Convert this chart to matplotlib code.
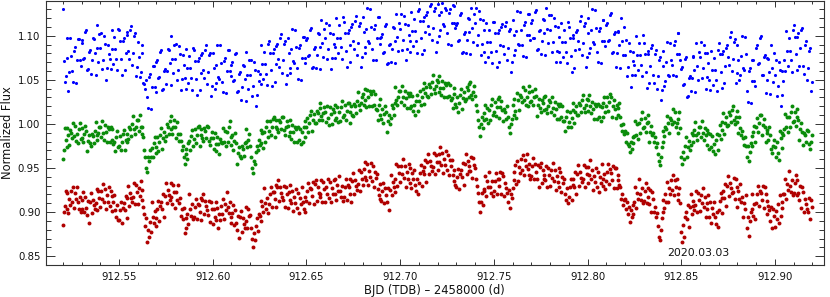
import numpy as np
import matplotlib
matplotlib.use("Agg")
import matplotlib.pyplot as plt
from matplotlib.ticker import MultipleLocator, FormatStrFormatter

# ---------------- data (flux values in units of 0.001) ----------------
t0 = 912.520          # first time stamp (BJD - 2458000)
dt_gr = 0.0005        # cadence of green / red series
dt_b = 0.001          # cadence of each blue sub-series
t0_b2 = 912.5205      # second (interleaved) blue sub-series

green_mflux = [
 960, 970, 995, 982, 974, 995, 987, 976, 993, 990, 984, 1001, 986, 998, 981, 989, 978, 994, 1001, 983,
 984, 995, 979, 989, 998, 992, 969, 981, 988, 978, 975, 989, 986, 978, 992, 1002, 987, 982, 990, 997,
 997, 985, 1003, 990, 982, 999, 991, 980, 997, 994, 980, 997, 982, 994, 977, 980, 969, 985, 992, 974,
 975, 986, 970, 980, 989, 993, 970, 982, 989, 979, 983, 997, 994, 986, 1000, 1009, 994, 989, 997, 1004,
 1004, 992, 1010, 997, 989, 996, 985, 970, 962, 950, 946, 962, 958, 971, 963, 973, 962, 978, 985, 967,
 974, 985, 969, 979, 988, 995, 972, 984, 991, 981, 986, 1000, 997, 989, 1003, 1009, 994, 989, 997, 1004,
 996, 984, 1002, 989, 981, 989, 981, 970, 975, 962, 955, 966, 972, 960, 978, 981, 970, 986, 993, 975,
 983, 994, 978, 988, 997, 998, 975, 987, 994, 984, 981, 995, 992, 984, 998, 996, 981, 976, 984, 991,
 984, 972, 990, 977, 969, 985, 977, 966, 983, 980, 978, 995, 980, 992, 975, 991, 980, 996, 1003, 985,
 976, 987, 971, 981, 990, 978, 955, 967, 974, 964, 961, 975, 972, 964, 978, 994, 979, 974, 982, 989,
 975, 962, 950, 944, 958, 955, 968, 975, 970, 982, 976, 993, 978, 990, 973, 991, 980, 996, 1003, 985,
 992, 1003, 987, 997, 1006, 1008, 985, 997, 1004, 994, 991, 1005, 1002, 994, 1008, 1008, 993, 988, 996, 1003,
 998, 986, 1004, 991, 983, 999, 991, 980, 997, 994, 980, 997, 982, 994, 977, 991, 980, 996, 1003, 985,
 996, 1007, 991, 1001, 1010, 1015, 992, 1004, 1011, 1001, 1001, 1015, 1012, 1004, 1018, 1024, 1009, 1004, 1012, 1019,
 1014, 1002, 1020, 1007, 999, 1019, 1011, 1000, 1017, 1014, 1005, 1022, 1007, 1019, 1002, 1014, 1003, 1019, 1026, 1008,
 1010, 1021, 1005, 1015, 1024, 1024, 1001, 1013, 1020, 1010, 1009, 1023, 1020, 1012, 1026, 1036, 1021, 1016, 1024, 1031,
 1034, 1022, 1040, 1027, 1019, 1039, 1031, 1020, 1037, 1034, 1020, 1037, 1022, 1034, 1017, 1016, 1005, 1021, 1028, 1010,
 1006, 1017, 1001, 1011, 1020, 1014, 991, 1003, 1010, 1000, 1007, 1021, 1018, 1010, 1024, 1042, 1027, 1022, 1030, 1037,
 1037, 1025, 1043, 1030, 1022, 1037, 1029, 1018, 1035, 1032, 1018, 1035, 1020, 1032, 1015, 1021, 1010, 1026, 1033, 1015,
 1026, 1037, 1021, 1031, 1040, 1046, 1023, 1035, 1042, 1032, 1031, 1045, 1042, 1034, 1048, 1055, 1040, 1035, 1043, 1050,
 1048, 1036, 1054, 1041, 1033, 1049, 1041, 1030, 1047, 1044, 1030, 1047, 1032, 1044, 1027, 1029, 1018, 1034, 1041, 1023,
 1019, 1030, 1014, 1024, 1033, 1040, 1017, 1029, 1036, 1026, 1028, 1042, 1039, 1031, 1045, 1048, 1033, 1028, 1036, 1043,
 1032, 1022, 1015, 1004, 996, 986, 1000, 1008, 995, 1012, 1004, 1021, 1006, 1018, 1001, 1016, 1005, 1021, 1028, 1010,
 1014, 1025, 1009, 1019, 1028, 1030, 1007, 1019, 1026, 1016, 1003, 1017, 1014, 1006, 1020, 1008, 996, 990, 1000, 1006,
 1022, 1010, 1028, 1015, 1007, 1035, 1027, 1016, 1033, 1030, 1025, 1042, 1027, 1039, 1022, 1031, 1020, 1036, 1043, 1025,
 1026, 1037, 1021, 1031, 1040, 1032, 1009, 1021, 1028, 1018, 1013, 1027, 1024, 1016, 1030, 1032, 1017, 1012, 1020, 1027,
 1025, 1013, 1031, 1018, 1010, 1025, 1017, 1006, 1023, 1020, 1006, 1023, 1008, 1020, 1003, 1003, 992, 1008, 1015, 997,
 1002, 1013, 997, 1007, 1016, 1024, 1001, 1013, 1020, 1010, 1010, 1024, 1021, 1013, 1027, 1033, 1018, 1013, 1021, 1028,
 1027, 1015, 1033, 1020, 1012, 1025, 1017, 1006, 1023, 1020, 1006, 1023, 1008, 1020, 1003, 1019, 1008, 1024, 1031, 1013,
 1020, 1031, 1015, 1025, 1034, 1031, 1008, 1020, 1027, 1017, 1007, 1021, 1018, 1010, 1024, 1008, 999, 992, 1000, 989,
 992, 980, 990, 977, 975, 968, 980, 972, 985, 978, 986, 1003, 988, 1000, 983, 1001, 990, 1006, 1013, 995,
 996, 1007, 991, 1001, 1010, 1002, 979, 991, 998, 988, 990, 980, 985, 974, 978, 966, 958, 953, 962, 974,
 980, 992, 986, 997, 994, 1009, 1001, 990, 1007, 1004, 1000, 1017, 1002, 1014, 997, 1001, 990, 1006, 1013, 995,
 962, 955, 968, 960, 975, 985, 962, 974, 981, 971, 976, 990, 987, 979, 993, 1002, 987, 982, 990, 997,
 997, 985, 1003, 990, 982, 995, 987, 976, 993, 990, 972, 989, 974, 986, 969, 977, 966, 982, 989, 971,
 988, 999, 983, 993, 1002, 1012, 989, 1001, 1008, 998, 999, 1013, 1010, 1002, 1016, 1020, 1005, 1000, 1008, 1015,
 1002, 990, 1008, 995, 987, 992, 984, 976, 985, 975, 962, 975, 958, 968, 978, 986, 975, 991, 998, 980,
 996, 1007, 991, 1001, 1010, 1010, 987, 999, 1006, 996, 979, 993, 990, 982, 996, 987, 972, 967, 975, 982,
 974, 962, 980, 967, 959, 992, 984, 973, 990, 987, 994, 1011, 996, 1008, 991, 1008, 997, 1013, 1020, 1002,
 1003, 1014, 998, 1008, 1017, 1005, 982, 994, 1001, 991, 976, 990, 987, 979, 993, 992, 977, 972, 980, 987,
]

red_mflux = [
 885, 900, 907, 924, 903, 922, 899, 915, 908, 924, 911, 928, 905, 922, 915, 928, 911, 904, 917, 900,
 903, 914, 923, 900, 917, 905, 897, 913, 888, 911, 922, 899, 914, 908, 903, 910, 926, 902, 924, 916,
 906, 924, 915, 932, 911, 926, 903, 919, 912, 928, 907, 924, 901, 918, 911, 919, 902, 895, 908, 891,
 891, 902, 911, 888, 905, 910, 902, 918, 893, 916, 930, 907, 922, 916, 911, 917, 933, 909, 931, 923,
 909, 927, 918, 935, 914, 925, 906, 898, 884, 893, 866, 880, 872, 889, 878, 912, 895, 888, 901, 884,
 893, 904, 913, 890, 907, 912, 904, 920, 895, 918, 933, 910, 925, 919, 914, 917, 933, 909, 931, 923,
 905, 923, 914, 931, 910, 916, 896, 903, 892, 905, 876, 893, 882, 898, 887, 920, 903, 896, 909, 892,
 895, 906, 915, 892, 909, 908, 900, 916, 891, 914, 921, 898, 913, 907, 902, 897, 913, 889, 911, 903,
 886, 904, 895, 912, 891, 905, 882, 898, 891, 907, 898, 915, 892, 909, 902, 923, 906, 899, 912, 895,
 888, 899, 908, 885, 902, 888, 880, 896, 871, 894, 901, 878, 893, 887, 882, 890, 906, 882, 904, 896,
 897, 882, 870, 860, 876, 868, 884, 893, 879, 898, 896, 913, 890, 907, 900, 927, 910, 903, 916, 899,
 909, 920, 929, 906, 923, 923, 915, 931, 906, 929, 936, 913, 928, 922, 917, 914, 930, 906, 928, 920,
 905, 923, 914, 931, 910, 924, 901, 917, 910, 926, 905, 922, 899, 916, 909, 928, 911, 904, 917, 900,
 913, 924, 933, 910, 927, 926, 918, 934, 909, 932, 936, 913, 928, 922, 917, 920, 936, 912, 934, 926,
 911, 929, 920, 937, 916, 934, 911, 927, 920, 936, 920, 937, 914, 931, 924, 941, 924, 917, 930, 913,
 917, 928, 937, 914, 931, 929, 921, 937, 912, 935, 944, 921, 936, 930, 925, 932, 948, 924, 946, 938,
 931, 949, 940, 957, 936, 954, 931, 947, 940, 956, 935, 952, 929, 946, 939, 943, 926, 919, 932, 915,
 913, 924, 933, 910, 927, 919, 911, 927, 902, 925, 942, 919, 934, 928, 923, 938, 954, 930, 952, 944,
 934, 952, 943, 960, 939, 952, 929, 945, 938, 954, 933, 950, 927, 944, 937, 948, 931, 924, 937, 920,
 933, 944, 953, 930, 947, 951, 943, 959, 934, 957, 966, 943, 958, 952, 947, 951, 967, 943, 965, 957,
 948, 966, 957, 974, 953, 967, 944, 960, 953, 969, 948, 965, 942, 959, 952, 959, 942, 935, 948, 931,
 929, 940, 949, 926, 943, 948, 940, 956, 931, 954, 966, 943, 958, 952, 947, 947, 963, 939, 961, 953,
 950, 938, 930, 922, 912, 900, 912, 922, 908, 926, 924, 941, 918, 935, 928, 946, 929, 922, 935, 918,
 924, 935, 944, 921, 938, 938, 930, 946, 921, 944, 941, 918, 933, 927, 922, 912, 925, 905, 920, 916,
 927, 945, 936, 953, 932, 958, 935, 951, 944, 960, 948, 965, 942, 959, 952, 966, 949, 942, 955, 938,
 941, 952, 961, 938, 955, 945, 937, 953, 928, 951, 956, 933, 948, 942, 937, 936, 952, 928, 950, 942,
 930, 948, 939, 956, 935, 948, 925, 941, 934, 950, 929, 946, 923, 940, 933, 938, 921, 914, 927, 910,
 917, 928, 937, 914, 931, 937, 929, 945, 920, 943, 953, 930, 945, 939, 934, 937, 953, 929, 951, 943,
 933, 951, 942, 959, 938, 948, 925, 941, 934, 950, 929, 946, 923, 940, 933, 954, 937, 930, 943, 926,
 935, 946, 955, 932, 949, 944, 936, 952, 927, 950, 950, 927, 942, 936, 931, 928, 915, 920, 908, 914,
 915, 903, 912, 898, 906, 889, 902, 895, 908, 898, 911, 928, 905, 922, 915, 938, 921, 914, 927, 910,
 913, 924, 933, 910, 927, 917, 909, 925, 900, 923, 915, 900, 906, 894, 899, 884, 872, 868, 880, 893,
 900, 914, 905, 920, 912, 934, 911, 927, 920, 936, 925, 942, 919, 936, 929, 938, 921, 914, 927, 910,
 878, 866, 885, 872, 894, 900, 892, 908, 883, 906, 921, 898, 913, 907, 902, 908, 924, 900, 922, 914,
 901, 919, 910, 927, 906, 917, 894, 910, 903, 919, 894, 911, 888, 905, 898, 911, 894, 887, 900, 883,
 902, 913, 922, 899, 916, 924, 916, 932, 907, 930, 941, 918, 933, 927, 922, 923, 939, 915, 937, 929,
 906, 924, 915, 932, 911, 917, 894, 910, 903, 919, 882, 895, 873, 890, 900, 920, 903, 896, 909, 892,
 910, 921, 930, 907, 924, 922, 914, 930, 905, 928, 921, 898, 913, 907, 902, 890, 906, 882, 904, 896,
 883, 901, 892, 909, 888, 919, 896, 912, 905, 921, 921, 938, 915, 932, 925, 947, 930, 923, 936, 919,
 922, 933, 942, 919, 936, 922, 914, 930, 905, 928, 923, 900, 915, 909, 904, 900, 916, 892, 914, 906,
]

blue_mflux = [
 1130, 1048, 1075, 1037, 1097, 1060, 1083, 1047, 1096, 1072, 1092, 1074, 1104, 1061, 1082, 1057, 1097, 1081, 1112, 1070,
 1086, 1062, 1100, 1050, 1090, 1074, 1107, 1068, 1085, 1061, 1107, 1074, 1094, 1061, 1101, 1083, 1106, 1067, 1100, 1054,
 1093, 1053, 1080, 1046, 1040, 1030, 1053, 1017, 1066, 1042, 1070, 1052, 1082, 1039, 1060, 1045, 1085, 1069, 1100, 1058,
 1074, 1050, 1088, 1038, 1078, 1052, 1085, 1046, 1063, 1039, 1084, 1051, 1071, 1038, 1078, 1061, 1084, 1045, 1078, 1032,
 1080, 1040, 1067, 1053, 1089, 1048, 1071, 1035, 1084, 1060, 1067, 1049, 1079, 1036, 1057, 1027, 1067, 1051, 1082, 1040,
 1056, 1032, 1070, 1020, 1060, 1057, 1090, 1051, 1068, 1044, 1094, 1061, 1081, 1048, 1088, 1074, 1097, 1058, 1091, 1045,
 1098, 1058, 1085, 1071, 1107, 1063, 1086, 1050, 1099, 1075, 1095, 1077, 1107, 1064, 1085, 1063, 1103, 1087, 1118, 1076,
 1098, 1074, 1112, 1062, 1102, 1087, 1120, 1081, 1098, 1074, 1116, 1083, 1103, 1070, 1110, 1094, 1117, 1078, 1111, 1065,
 1121, 1081, 1108, 1094, 1130, 1085, 1108, 1072, 1121, 1097, 1099, 1081, 1111, 1068, 1089, 1070, 1110, 1094, 1125, 1083,
 1108, 1084, 1122, 1072, 1112, 1094, 1127, 1088, 1105, 1081, 1130, 1097, 1117, 1084, 1124, 1111, 1134, 1095, 1128, 1082,
 1136, 1100, 1127, 1113, 1131, 1103, 1126, 1090, 1135, 1115, 1112, 1094, 1124, 1081, 1102, 1080, 1120, 1104, 1132, 1093,
 1114, 1090, 1128, 1078, 1118, 1082, 1115, 1076, 1093, 1069, 1116, 1083, 1103, 1070, 1110, 1088, 1111, 1072, 1105, 1059,
 1118, 1078, 1105, 1091, 1127, 1089, 1112, 1076, 1125, 1101, 1115, 1097, 1127, 1084, 1105, 1079, 1119, 1103, 1131, 1092,
 1106, 1082, 1120, 1070, 1110, 1082, 1115, 1076, 1093, 1069, 1110, 1077, 1097, 1064, 1104, 1094, 1117, 1078, 1111, 1065,
 1120, 1080, 1107, 1093, 1129, 1082, 1105, 1069, 1118, 1094, 1112, 1094, 1124, 1081, 1102, 1065, 1105, 1089, 1120, 1078,
 1078, 1054, 1092, 1042, 1082, 1067, 1100, 1061, 1078, 1054, 1092, 1059, 1079, 1046, 1086, 1056, 1079, 1040, 1073, 1027,
 1083, 1043, 1070, 1056, 1092, 1067, 1090, 1054, 1103, 1079, 1062, 1044, 1074, 1031, 1052, 1037, 1077, 1061, 1092, 1050,
 1076, 1052, 1090, 1040, 1080, 1050, 1083, 1044, 1061, 1037, 1092, 1059, 1079, 1046, 1086, 1076, 1099, 1060, 1093, 1047,
 1090, 1050, 1077, 1063, 1099, 1037, 1060, 1024, 1073, 1049, 1086, 1068, 1098, 1055, 1076, 1035, 1075, 1059, 1090, 1048,
 1056, 1032, 1070, 1020, 1060, 1072, 1105, 1066, 1083, 1059, 1112, 1079, 1099, 1066, 1106, 1066, 1089, 1050, 1083, 1037,
]

blue2_mflux = [
 1071, 1054, 1098, 1059, 1077, 1048, 1087, 1072, 1096, 1066, 1095, 1075, 1106, 1062, 1084, 1072, 1096, 1056, 1086, 1102,
 1103, 1073, 1091, 1063, 1079, 1062, 1085, 1099, 1074, 1108, 1094, 1056, 1098, 1081, 1104, 1074, 1111, 1081, 1103, 1065,
 1076, 1059, 1090, 1045, 1050, 1018, 1057, 1042, 1066, 1036, 1073, 1053, 1084, 1040, 1062, 1060, 1084, 1044, 1074, 1090,
 1091, 1061, 1079, 1051, 1067, 1040, 1063, 1077, 1052, 1086, 1071, 1033, 1075, 1058, 1081, 1052, 1089, 1059, 1081, 1043,
 1063, 1046, 1090, 1051, 1069, 1036, 1075, 1060, 1084, 1054, 1070, 1050, 1081, 1037, 1059, 1042, 1066, 1026, 1056, 1072,
 1073, 1043, 1061, 1033, 1049, 1045, 1068, 1082, 1057, 1091, 1081, 1043, 1085, 1068, 1091, 1065, 1102, 1072, 1094, 1056,
 1081, 1064, 1108, 1069, 1087, 1051, 1090, 1075, 1099, 1069, 1098, 1078, 1109, 1065, 1087, 1078, 1102, 1062, 1092, 1108,
 1115, 1085, 1103, 1075, 1091, 1075, 1098, 1112, 1087, 1121, 1103, 1065, 1107, 1090, 1113, 1085, 1122, 1092, 1114, 1076,
 1104, 1087, 1131, 1092, 1110, 1073, 1112, 1097, 1121, 1091, 1102, 1082, 1113, 1069, 1091, 1085, 1109, 1069, 1099, 1115,
 1125, 1095, 1113, 1085, 1101, 1082, 1105, 1119, 1094, 1128, 1117, 1079, 1121, 1104, 1127, 1102, 1136, 1109, 1131, 1093,
 1123, 1106, 1137, 1111, 1129, 1091, 1130, 1115, 1134, 1109, 1115, 1095, 1126, 1082, 1104, 1095, 1119, 1079, 1109, 1125,
 1131, 1101, 1119, 1091, 1107, 1070, 1093, 1107, 1082, 1116, 1103, 1065, 1107, 1090, 1113, 1079, 1116, 1086, 1108, 1070,
 1101, 1084, 1128, 1089, 1107, 1077, 1116, 1101, 1125, 1095, 1118, 1098, 1129, 1085, 1107, 1094, 1118, 1078, 1108, 1124,
 1123, 1093, 1111, 1083, 1099, 1070, 1093, 1107, 1082, 1116, 1097, 1059, 1101, 1084, 1107, 1085, 1122, 1092, 1114, 1076,
 1103, 1086, 1130, 1091, 1109, 1070, 1109, 1094, 1118, 1088, 1115, 1095, 1126, 1082, 1104, 1080, 1104, 1064, 1094, 1110,
 1095, 1065, 1083, 1055, 1071, 1055, 1078, 1092, 1067, 1101, 1079, 1041, 1083, 1066, 1089, 1047, 1084, 1054, 1076, 1038,
 1066, 1049, 1093, 1054, 1072, 1055, 1094, 1079, 1103, 1073, 1065, 1045, 1076, 1032, 1054, 1052, 1076, 1036, 1066, 1082,
 1093, 1063, 1081, 1053, 1069, 1038, 1061, 1075, 1050, 1084, 1079, 1041, 1083, 1066, 1089, 1067, 1104, 1074, 1096, 1058,
 1073, 1056, 1100, 1061, 1079, 1025, 1064, 1049, 1073, 1043, 1089, 1069, 1100, 1056, 1078, 1050, 1074, 1034, 1064, 1080,
 1073, 1043, 1061, 1033, 1049, 1060, 1083, 1097, 1072, 1106, 1099, 1061, 1103, 1086, 1109, 1057, 1094, 1064, 1086, 1048,
]

x_ticks = [912.55, 912.60, 912.65, 912.70, 912.75, 912.80, 912.85, 912.90]
y_ticks = [0.85, 0.90, 0.95, 1.00, 1.05, 1.10]
x_label = "BJD (TDB) \u2013 2458000 (d)"
y_label = "Normalized Flux"
date_text = "2020.03.03"

# ---------------- build arrays ----------------
g_flux = np.array(green_mflux) / 1000.0
r_flux = np.array(red_mflux) / 1000.0
b_flux = np.concatenate([np.array(blue_mflux), np.array(blue2_mflux)]) / 1000.0
g_t = t0 + dt_gr * np.arange(len(green_mflux))
r_t = t0 + dt_gr * np.arange(len(red_mflux))
b_t = np.concatenate([t0 + dt_b * np.arange(len(blue_mflux)),
                      t0_b2 + dt_b * np.arange(len(blue2_mflux))])

# ---------------- figure ----------------
fig = plt.figure(figsize=(8.30, 2.97), dpi=100)
ax = fig.add_axes([0.0551, 0.1077, 0.9373, 0.8906])

ax.scatter(b_t, b_flux, s=5.0, c="#0000ff", linewidths=0, zorder=3)
ax.scatter(g_t, g_flux, s=8.0, c="#0a8c0a", linewidths=0, zorder=3)
ax.scatter(r_t, r_flux, s=8.0, c="#b00000", linewidths=0, zorder=3)

ax.set_xlim(912.5109, 912.926)
ax.set_ylim(0.840, 1.140)

ax.set_xticks(x_ticks)
ax.set_yticks(y_ticks)
ax.xaxis.set_minor_locator(MultipleLocator(0.01))
ax.yaxis.set_minor_locator(MultipleLocator(0.01))
ax.xaxis.set_major_formatter(FormatStrFormatter("%.2f"))
ax.yaxis.set_major_formatter(FormatStrFormatter("%.2f"))

edge = "#333333"
for sp in ax.spines.values():
    sp.set_linewidth(0.8)
    sp.set_color(edge)

ax.tick_params(which="both", direction="in", top=True, right=True,
               color=edge, width=0.7, labelsize=7.3, labelcolor="#111111")
ax.tick_params(axis="x", which="major", length=4.3, pad=5)
ax.tick_params(axis="x", which="minor", length=2.2)
ax.tick_params(axis="y", which="major", length=6.5, pad=3.8)
ax.tick_params(axis="y", which="minor", length=3.6)

ax.set_xlabel(x_label, fontsize=8.3, color="#111111", va="center")
ax.xaxis.set_label_coords(0.5, -0.0945)
ax.set_ylabel(y_label, fontsize=8.3, color="#111111", va="center")
ax.yaxis.set_label_coords(-0.0497, 0.5)

ax.text(912.859, 0.8537, date_text, fontsize=7.8, color="#111111",
        ha="center", va="center")

fig.savefig("out.png", dpi=100)
